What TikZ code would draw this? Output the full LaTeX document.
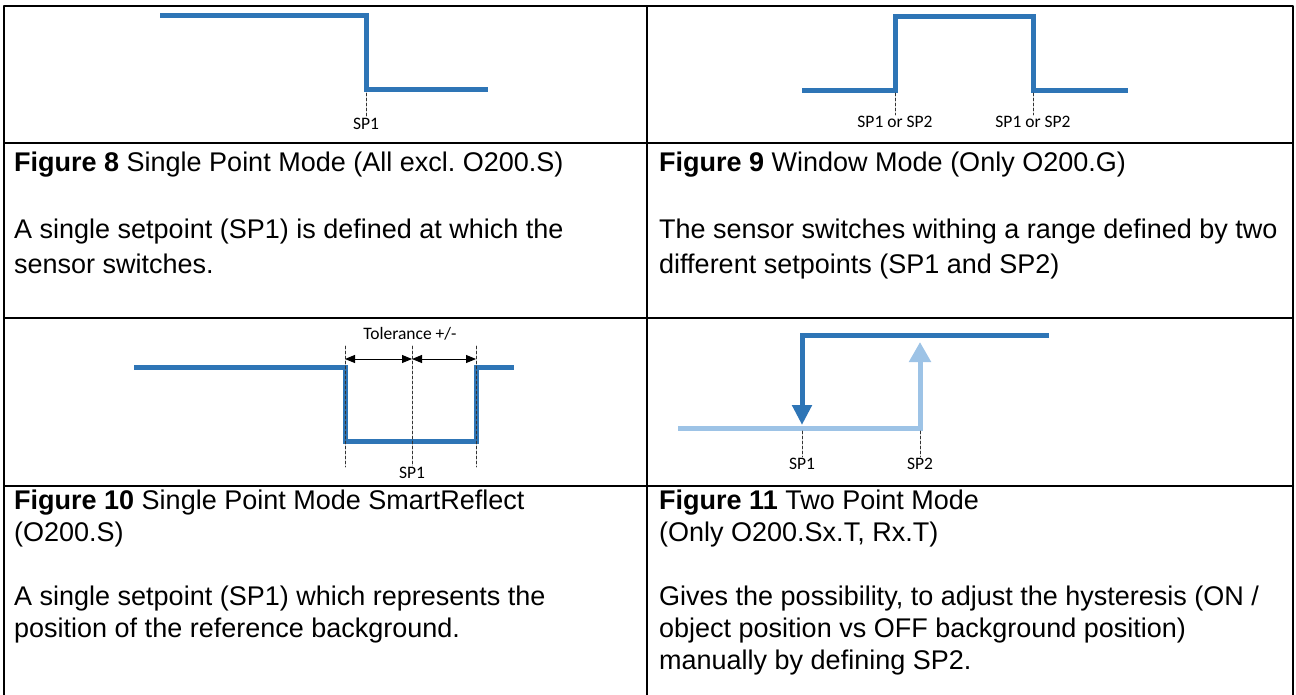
\documentclass[tikz,border=0pt]{standalone}
\usepackage{fontspec}
\setmainfont{Liberation Sans}
\newfontfamily\lblfont{Carlito}
\usetikzlibrary{arrows,arrows.meta}
\definecolor{sigblue}{HTML}{2E75B6}
\definecolor{sigpale}{HTML}{9DC3E6}
\frenchspacing
\tikzset{
  cellline/.style={line width=2pt,black},
  signal/.style={line width=5pt,sigblue,line cap=butt,line join=miter},
  pale/.style={line width=5pt,sigpale,line cap=butt,line join=miter},
  sptick/.style={dash pattern=on 3pt off 2pt,line width=0.9pt,black!80},
  splabel/.style={font=\lblfont\fontsize{17.5}{17.5}\selectfont,inner sep=1pt,anchor=north},
  tolarrow/.style={line width=1pt,{Triangle[length=10pt,width=8pt]}-{Triangle[length=10pt,width=8pt]}},
  captxt/.style={anchor=base west,inner sep=0pt,font=\fontsize{27}{31}\selectfont}
}

\begin{document}
\begin{tikzpicture}[x=1pt,y=-1pt,line cap=round,line join=round]
\useasboundingbox (0,0) rectangle (1296,695);

% table
\draw[cellline] (4,695) -- (4,6) -- (1293,6) -- (1293,695);
\draw[cellline] (647,6) -- (647,695);
\draw[cellline] (4,143) -- (1293,143);
\draw[cellline] (4,318) -- (1293,318);
\draw[cellline] (4,486) -- (1293,486);

% figure 8
\draw[signal] (160,16) -- (366,16) -- (366,90) -- (488,90);
\coordinate (s8) at (366,93);
\node[splabel] (sp8) at (366,117) {SP1};
\draw[sptick] (s8) -- (sp8);

% figure 9
\draw[signal] (802,91) -- (895,91) -- (895,17) -- (1033,17) -- (1033,91) -- (1128,91);
\coordinate (s9a) at (895,93);
\coordinate (s9b) at (1033,93);
\node[splabel] (sp9a) at (895,115) {SP1 or SP2};
\node[splabel] (sp9b) at (1033,115) {SP1 or SP2};
\draw[sptick] (s9a) -- (sp9a);
\draw[sptick] (s9b) -- (sp9b);

% figure 10
\draw[signal] (134,367) -- (345,367) -- (345,441) -- (476,441) -- (476,367) -- (514,367);
\node[splabel,anchor=base] (tol) at (410,339) {Tolerance +/-};
\coordinate (t1) at (345,346);
\coordinate (t2) at (412,346);
\coordinate (t3) at (476,346);
\coordinate (b1) at (345,467);
\coordinate (b3) at (476,467);
\node[splabel] (sp10) at (412,466) {SP1};
\draw[sptick] (t1) -- (b1);
\draw[sptick] (t3) -- (b3);
\draw[sptick] (t2) -- (sp10);
\draw[tolarrow] (345,359) -- (412,359);
\draw[tolarrow] (412,359) -- (476,359);

% figure 11
\draw[pale,-{Triangle[length=20pt,width=21pt]}] (678,428) -- (920,428) -- (920,342);
\draw[signal,-{Triangle[length=20pt,width=19pt]}] (1049,335) -- (802,335) -- (802,425);
\coordinate (s11a) at (802,431);
\coordinate (s11b) at (920,431);
\node[splabel] (sp11a) at (802,457) {SP1};
\node[splabel] (sp11b) at (920,457) {SP2};
\draw[sptick] (s11a) -- (sp11a);
\draw[sptick] (s11b) -- (sp11b);

% captions
\node[captxt] (c8a) at (14,172) {\textbf{Figure 8} Single Point Mode (All excl. O200.S)};
\node[captxt] (c8b) at (14,239) {A single setpoint (SP1) is defined at which the};
\node[captxt] (c8c) at (14,273) {sensor switches.};
\node[captxt] (c9a) at (659,172) {\textbf{Figure 9} Window Mode (Only O200.G)};
\node[captxt] (c9b) at (659,239) {The sensor switches withing a range defined by two};
\node[captxt] (c9c) at (659,273) {different setpoints (SP1 and SP2)};
\node[captxt] (c10a) at (14,509) {\textbf{Figure 10} Single Point Mode SmartReflect};
\node[captxt] (c10b) at (14,541) {(O200.S)};
\node[captxt] (c10c) at (14,605) {A single setpoint (SP1) which represents the};
\node[captxt] (c10d) at (14,637) {position of the reference background.};
\node[captxt] (c11a) at (659,509) {\textbf{Figure 11} Two Point Mode};
\node[captxt] (c11b) at (659,541) {(Only O200.Sx.T, Rx.T)};
\node[captxt] (c11c) at (659,605) {Gives the possibility, to adjust the hysteresis (ON /};
\node[captxt] (c11d) at (659,637) {object position vs OFF background position)};
\node[captxt] (c11e) at (659,669) {manually by defining SP2.};
\end{tikzpicture}
\end{document}
